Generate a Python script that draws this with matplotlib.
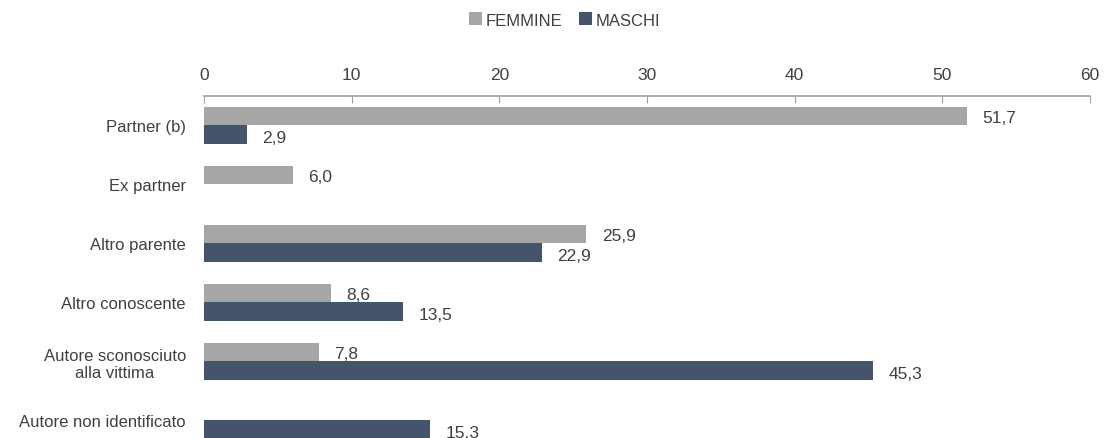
import numpy as np
import matplotlib.pyplot as plt

plt.rcParams['font.family'] = ['Liberation Sans', 'DejaVu Sans']

categorie = ["Partner (b)", "Ex partner", "Altro parente", "Altro conoscente",
             "Autore sconosciuto\nalla vittima", "Autore non identificato"]
femmine = [51.7, 6.0, 25.9, 8.6, 7.8, np.nan]
maschi = [2.9, np.nan, 22.9, 13.5, 45.3, 15.3]
# etichette come stampate nell'originale (l'ultima ha il punto)
etich_f = ["51,7", "6,0", "25,9", "8,6", "7,8", ""]
etich_m = ["2,9", "", "22,9", "13,5", "45,3", "15.3"]
ticks = [0, 10, 20, 30, 40, 50, 60]

col_f = '#A6A6A6'
col_m = '#44546A'
txt = '#404040'

fig = plt.figure(figsize=(11.07, 4.39), dpi=100)
ax = fig.add_axes([204/1107, 0, (1090-204)/1107, (439-97)/439])

y = np.arange(len(categorie))
h = 0.31
off = 0.155
ax.barh(y - off, femmine, height=h, color=col_f, label='FEMMINE')
ax.barh(y + off, maschi, height=h, color=col_m, label='MASCHI')

# etichette valori
for yi, v, s in zip(y - off, femmine, etich_f):
    if not np.isnan(v):
        ax.annotate(s, (v, yi), xytext=(11, -1), textcoords='offset points',
                    va='center', ha='left', fontsize=12.5, color=txt)
for yi, v, s in zip(y + off, maschi, etich_m):
    if not np.isnan(v):
        ax.annotate(s, (v, yi), xytext=(11, -2), textcoords='offset points',
                    va='center', ha='left', fontsize=12.5, color=txt)

ax.set_xlim(0, 60)
ax.set_ylim(5.3, -0.5)
ax.set_xticks(ticks)
ax.xaxis.tick_top()
ax.tick_params(axis='x', direction='in', length=5, color='#A0A0A0', pad=10,
               labelsize=12.5, labelcolor=txt)
ax.set_yticks(y)
ax.set_yticklabels(categorie, fontsize=12, color=txt)
ax.tick_params(axis='y', length=0, pad=13)
for lab in ax.get_yticklabels():
    lab.set_multialignment('center')

for s in ['left', 'right', 'bottom']:
    ax.spines[s].set_visible(False)
ax.spines['top'].set_color('#A0A0A0')
ax.spines['top'].set_linewidth(1.2)

fig.legend(loc='center', bbox_to_anchor=(0.51, 0.952), ncol=2, frameon=False,
           fontsize=12, handlelength=0.8, handleheight=0.8, handletextpad=0.2,
           columnspacing=1.0, labelcolor=txt)

fig.savefig('out.png', dpi=100)
